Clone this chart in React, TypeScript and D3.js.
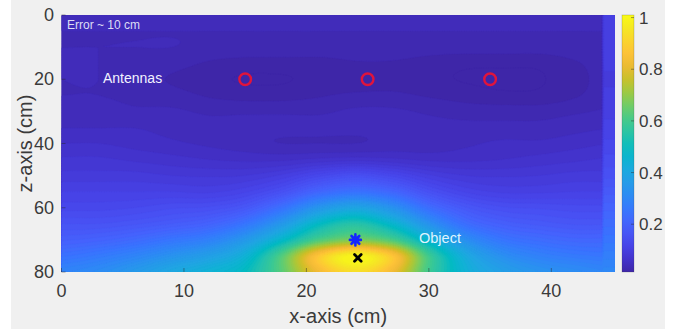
import React, { useMemo } from "react";
import * as d3 from "d3";

// ---------- data ----------
const xGrid = [0, 3, 6, 9, 12, 15, 18, 21, 24, 27, 30, 33, 36, 39, 42, 45];
const zGrid = [0, 5, 10, 15, 20, 25, 30, 35, 40, 45, 50, 55, 60, 65, 70, 75, 80];

const row00 = [0.045, 0.045, 0.045, 0.045, 0.045, 0.045, 0.045, 0.045, 0.045, 0.045, 0.045, 0.045, 0.045, 0.045, 0.045, 0.045];
const row05 = [0.04, 0.04, 0.04, 0.04, 0.04, 0.04, 0.04, 0.04, 0.04, 0.04, 0.04, 0.04, 0.04, 0.04, 0.04, 0.04];
const row10 = [0.04, 0.04, 0.04, 0.04, 0.037, 0.037, 0.037, 0.037, 0.037, 0.037, 0.034, 0.034, 0.034, 0.034, 0.037, 0.04];
const row15 = [0.04, 0.04, 0.037, 0.033, 0.026, 0.022, 0.022, 0.022, 0.026, 0.026, 0.022, 0.018, 0.018, 0.018, 0.026, 0.037];
const row20 = [0.04, 0.04, 0.034, 0.026, 0.018, 0.014, 0.014, 0.018, 0.018, 0.022, 0.018, 0.014, 0.012, 0.014, 0.022, 0.037];
const row25 = [0.04, 0.04, 0.037, 0.033, 0.026, 0.022, 0.022, 0.026, 0.03, 0.03, 0.026, 0.022, 0.018, 0.018, 0.026, 0.037];
const row30 = [0.045, 0.045, 0.042, 0.042, 0.038, 0.038, 0.038, 0.038, 0.042, 0.042, 0.038, 0.034, 0.034, 0.034, 0.038, 0.042];
const row35 = [0.052, 0.052, 0.052, 0.048, 0.044, 0.044, 0.044, 0.044, 0.044, 0.044, 0.044, 0.044, 0.044, 0.044, 0.048, 0.052];
const row40 = [0.065, 0.065, 0.06, 0.055, 0.05, 0.045, 0.04, 0.04, 0.04, 0.045, 0.045, 0.05, 0.055, 0.055, 0.06, 0.065];
const row45 = [0.08, 0.08, 0.075, 0.07, 0.065, 0.062, 0.062, 0.068, 0.072, 0.068, 0.062, 0.062, 0.065, 0.07, 0.075, 0.08];
const row50 = [0.095, 0.095, 0.095, 0.09, 0.088, 0.09, 0.105, 0.135, 0.155, 0.135, 0.105, 0.09, 0.088, 0.09, 0.095, 0.095];
const row55 = [0.115, 0.115, 0.115, 0.115, 0.112, 0.125, 0.16, 0.22, 0.25, 0.22, 0.16, 0.125, 0.112, 0.112, 0.115, 0.115];
const row60 = [0.135, 0.135, 0.14, 0.15, 0.155, 0.18, 0.25, 0.35, 0.4, 0.34, 0.24, 0.18, 0.155, 0.15, 0.145, 0.145];
const row65 = [0.165, 0.165, 0.175, 0.19, 0.21, 0.26, 0.36, 0.49, 0.55, 0.47, 0.34, 0.24, 0.2, 0.185, 0.175, 0.175];
const row70 = [0.2, 0.21, 0.23, 0.26, 0.29, 0.36, 0.48, 0.62, 0.68, 0.62, 0.46, 0.33, 0.26, 0.235, 0.22, 0.22];
const row75 = [0.25, 0.27, 0.3, 0.34, 0.38, 0.45, 0.63, 0.88, 1.0, 0.88, 0.6, 0.42, 0.33, 0.29, 0.27, 0.26];
const row80 = [0.3, 0.32, 0.36, 0.41, 0.45, 0.5, 0.64, 0.84, 0.94, 0.84, 0.6, 0.45, 0.38, 0.34, 0.32, 0.3];
const field = [row00, row05, row10, row15, row20, row25, row30, row35, row40, row45, row50, row55, row60, row65, row70, row75, row80];

// lighter last column (x > 44.3)
const edgeZ = [0, 10, 20, 30, 40, 50, 60, 70, 80];
const edgeStrip = [0.11, 0.11, 0.1, 0.11, 0.13, 0.16, 0.21, 0.26, 0.31];

const antennaX = [15, 25, 35];
const antennaZ = [20, 20, 20];
const estimateX = [24.0];
const estimateZ = [70.0];
const truthX = [24.2];
const truthZ = [75.6];

const xTicks = [0, 10, 20, 30, 40];
const zTicks = [0, 20, 40, 60, 80];
const cbTicks = [0.2, 0.4, 0.6, 0.8, 1];

// parula colormap (subset of MATLAB parula(64))
const parulaStops = [
  [0.2422, 0.1504, 0.6603], [0.2647, 0.1978, 0.7952], [0.2783, 0.2559, 0.8991],
  [0.2810, 0.3228, 0.9579], [0.2699, 0.3892, 0.9906], [0.2206, 0.4603, 0.9973],
  [0.1786, 0.5289, 0.9682], [0.1540, 0.5902, 0.9218], [0.1248, 0.6459, 0.8883],
  [0.0689, 0.6948, 0.8394], [0.0067, 0.7312, 0.7660], [0.1408, 0.7584, 0.6842],
  [0.2161, 0.7843, 0.5923], [0.3406, 0.8008, 0.4789], [0.5044, 0.7993, 0.3480],
  [0.6720, 0.7793, 0.2227], [0.8203, 0.7498, 0.1535], [0.9393, 0.7288, 0.2100],
  [0.9970, 0.7659, 0.2199], [0.9786, 0.8386, 0.1766], [0.9597, 0.9135, 0.1423],
  [0.9769, 0.9839, 0.0805],
];

// ---------- layout ----------
const W = 673, H = 329;
const X0 = 61.5, X1 = 615, Y0 = 15, Y1 = 272;
const CB_X0 = 622, CB_X1 = 634;
const XMAX = 45.2, ZMAX = 80;
const C_MIN = 0.015, C_MAX = 1.01;
const FONT = "'Liberation Sans', Arial, sans-serif";
const TXT = "#3a3a3a";

function catmull(p0: number, p1: number, p2: number, p3: number, t: number) {
  const t2 = t * t, t3 = t2 * t;
  return 0.5 * (2 * p1 + (-p0 + p2) * t + (2 * p0 - 5 * p1 + 4 * p2 - p3) * t2 + (-p0 + 3 * p1 - 3 * p2 + p3) * t3);
}

function sampleField(x: number, z: number) {
  const dx = xGrid[1] - xGrid[0];
  const dz = zGrid[1] - zGrid[0];
  const fx = Math.min(Math.max(x / dx, 0), xGrid.length - 1.0001);
  const fz = Math.min(Math.max(z / dz, 0), zGrid.length - 1.0001);
  const ix = Math.floor(fx), iz = Math.floor(fz);
  const tx = fx - ix, tz = fz - iz;
  const cx = (i: number) => Math.min(Math.max(i, 0), xGrid.length - 1);
  const cz = (i: number) => Math.min(Math.max(i, 0), zGrid.length - 1);
  const rows: number[] = [];
  for (let k = -1; k <= 2; k++) {
    const r = field[cz(iz + k)];
    rows.push(catmull(r[cx(ix - 1)], r[cx(ix)], r[cx(ix + 1)], r[cx(ix + 2)], tx));
  }
  return catmull(rows[0], rows[1], rows[2], rows[3], tz);
}

export default function App() {
  const xScale = d3.scaleLinear().domain([0, XMAX]).range([X0, X1]);
  const zScale = d3.scaleLinear().domain([0, ZMAX]).range([Y0, Y1]);
  const cbScale = d3.scaleLinear().domain([C_MIN, C_MAX]).range([Y1, Y0]);
  const parula = d3.piecewise(
    d3.interpolateRgb,
    parulaStops.map((c) => d3.rgb(c[0] * 255, c[1] * 255, c[2] * 255).toString())
  );
  const color = d3.scaleSequential(parula).domain([C_MIN, C_MAX]).clamp(true);
  const edgeScale = d3.scaleLinear().domain(edgeZ).range(edgeStrip);

  const { paths } = useMemo(() => {
    const nx = 226, nz = 160;
    const dx = XMAX / nx, dz = ZMAX / nz;
    const values = new Array(nx * nz);
    for (let j = 0; j < nz; j++) {
      for (let i = 0; i < nx; i++) {
        const x = (i + 0.5) * dx, z = (j + 0.5) * dz;
        const v = x > 44.3 ? edgeScale(z) : sampleField(x, z);
        values[i + j * nx] = Math.max(0, Math.min(1, v));
      }
    }
    const thresholds = d3.range(C_MIN, 1.0, 0.0125);
    const contours = d3.contours().size([nx, nz]).thresholds(thresholds)(values);
    const proj = d3.geoTransform({
      point: function (px: number, py: number) {
        (this as any).stream.point(xScale(px * dx), zScale(py * dz));
      },
    });
    const path = d3.geoPath(proj);
    return {
      paths: contours.map((c) => ({ d: path(c as any) || "", v: c.value })),
    };
  }, []);

  const cbStops = d3.range(0, 1.0001, 0.05);

  const starPath = (cx: number, cy: number, r: number) => {
    let d = "";
    for (let k = 0; k < 4; k++) {
      const a = (k * Math.PI) / 4;
      d += `M${cx - r * Math.cos(a)},${cy - r * Math.sin(a)}L${cx + r * Math.cos(a)},${cy + r * Math.sin(a)}`;
    }
    return d;
  };
  const timesPath = (cx: number, cy: number, r: number) =>
    `M${cx - r},${cy - r}L${cx + r},${cy + r}M${cx - r},${cy + r}L${cx + r},${cy - r}`;

  return (
    <svg width={W} height={H} style={{ position: "absolute", left: 0, top: 0, display: "block" }} fontFamily={FONT}>
      <rect x={0} y={0} width={W} height={H} fill="#ffffff" />
      <rect x={11} y={0} width={654} height={H} fill="#f0f0f0" />
      <defs>
        <clipPath id="plotClip">
          <rect x={X0} y={Y0} width={X1 - X0} height={Y1 - Y0} />
        </clipPath>
        <linearGradient id="cbGrad" x1="0" y1="1" x2="0" y2="0">
          {cbStops.map((t) => (
            <stop key={t} offset={t} stopColor={parula(t)} />
          ))}
        </linearGradient>
      </defs>

      {/* heatmap */}
      <g clipPath="url(#plotClip)">
        <rect x={X0} y={Y0} width={X1 - X0} height={Y1 - Y0} fill={color(C_MIN)} />
        {paths.map((p, i) => (
          <path key={i} d={p.d} fill={color(p.v)} stroke={color(p.v)} strokeWidth={0.3} />
        ))}
      </g>

      {/* ticks */}
      {xTicks.map((t) => (
        <g key={"xt" + t}>
          <line x1={xScale(t)} x2={xScale(t)} y1={Y1} y2={Y1 - 4} stroke="rgba(40,40,40,0.45)" strokeWidth={1} />
          <text x={xScale(t)} y={297} textAnchor="middle" fontSize={18} fill={TXT}>{t}</text>
        </g>
      ))}
      {zTicks.map((t) => (
        <g key={"zt" + t}>
          <line x1={X0} x2={X0 + 4} y1={zScale(t)} y2={zScale(t)} stroke="rgba(40,40,40,0.45)" strokeWidth={1} />
          <text x={54} y={zScale(t) + 6} textAnchor="end" fontSize={18} fill={TXT}>{t}</text>
        </g>
      ))}
      <text x={(X0 + X1) / 2} y={323} textAnchor="middle" fontSize={20} fill={TXT}>x-axis (cm)</text>
      <text transform={`translate(32,${(Y0 + Y1) / 2}) rotate(-90)`} textAnchor="middle" fontSize={20} fill={TXT}>z-axis (cm)</text>

      {/* annotations */}
      <text x={67} y={29} fontSize={12} fill="#dcdcf5">Error ~ 10 cm</text>
      <text x={103} y={83} fontSize={14} fill="#f2f2ff">Antennas</text>
      <text x={419} y={243} fontSize={14.5} fill="#dff3ff">Object</text>

      {/* markers */}
      {antennaX.map((x, i) => (
        <circle key={"a" + i} cx={xScale(x)} cy={zScale(antennaZ[i])} r={5.8} fill="none" stroke="#e0143c" strokeWidth={2.4} />
      ))}
      {estimateX.map((x, i) => (
        <path key={"e" + i} d={starPath(xScale(x), zScale(estimateZ[i]), 5.5)} stroke="#1426ff" strokeWidth={2.6} strokeLinecap="round" />
      ))}
      {truthX.map((x, i) => (
        <path key={"t" + i} d={timesPath(xScale(x), zScale(truthZ[i]), 3.3)} stroke="#000000" strokeWidth={2.8} strokeLinecap="round" />
      ))}

      {/* colorbar */}
      <rect x={CB_X0} y={Y0} width={CB_X1 - CB_X0} height={Y1 - Y0} fill="url(#cbGrad)" />
      <rect x={CB_X0} y={Y0} width={CB_X1 - CB_X0} height={Y1 - Y0} fill="none" stroke="rgba(60,60,60,0.35)" strokeWidth={0.6} />
      {cbTicks.map((t) => (
        <g key={"cb" + t}>
          <line x1={CB_X1} x2={CB_X1 - 3} y1={cbScale(t)} y2={cbScale(t)} stroke="rgba(40,40,40,0.45)" />
          <text x={639} y={cbScale(t) + 6} fontSize={17} fill={TXT}>{t}</text>
        </g>
      ))}
    </svg>
  );
}
